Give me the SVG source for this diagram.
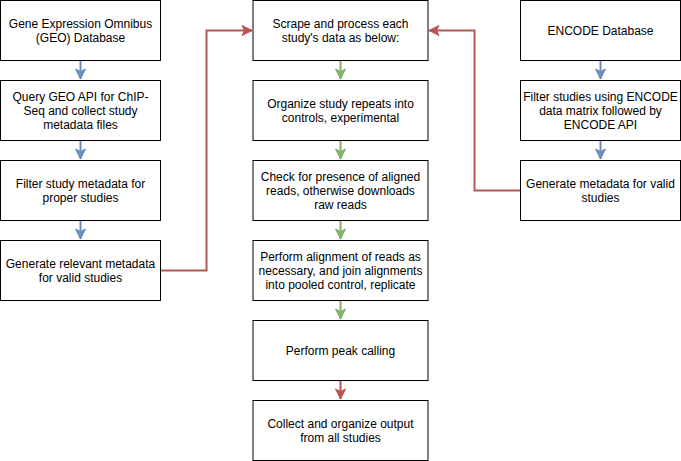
<svg xmlns="http://www.w3.org/2000/svg" width="681" height="461" viewBox="0 0 681 461">
<style>
.box{fill:#ffffff;stroke:#000000;stroke-width:1}
.t{font-family:"Liberation Sans",Arial,sans-serif;font-size:12px;fill:#000000;text-anchor:middle}
.blue{stroke:#6c8ebf;stroke-width:2;fill:none}
.green{stroke:#82b366;stroke-width:2;fill:none}
.red{stroke:#b85450;stroke-width:2;fill:none}
</style>
<defs>
<marker id="ab" markerUnits="userSpaceOnUse" markerWidth="14" markerHeight="12" viewBox="-10 -6 12 12" refX="0" refY="0" orient="auto"><path d="M0,0 L-10,-5 L-7.5,0 L-10,5 Z" fill="#6c8ebf" stroke="#6c8ebf"/></marker>
<marker id="ag" markerUnits="userSpaceOnUse" markerWidth="14" markerHeight="12" viewBox="-10 -6 12 12" refX="0" refY="0" orient="auto"><path d="M0,0 L-10,-5 L-7.5,0 L-10,5 Z" fill="#82b366" stroke="#82b366"/></marker>
<marker id="ar" markerUnits="userSpaceOnUse" markerWidth="14" markerHeight="12" viewBox="-10 -6 12 12" refX="0" refY="0" orient="auto"><path d="M0,0 L-10,-5 L-7.5,0 L-10,5 Z" fill="#b85450" stroke="#b85450"/></marker>
</defs>
<g id="connectors">
<path class="blue" d="M80.5,60.5 V79" marker-end="url(#ab)"/>
<path class="blue" d="M80.5,140.5 V159" marker-end="url(#ab)"/>
<path class="blue" d="M80.5,220.5 V239" marker-end="url(#ab)"/>
<path class="blue" d="M600.5,60.5 V79" marker-end="url(#ab)"/>
<path class="blue" d="M600.5,140.5 V159" marker-end="url(#ab)"/>
<path class="green" d="M340.5,60.5 V79" marker-end="url(#ag)"/>
<path class="green" d="M340.5,140.5 V159" marker-end="url(#ag)"/>
<path class="green" d="M340.5,220.5 V239" marker-end="url(#ag)"/>
<path class="green" d="M340.5,300.5 V319" marker-end="url(#ag)"/>
<path class="red" d="M340.5,380.5 V399" marker-end="url(#ar)"/>
<path class="red" d="M160.5,270.5 H206.5 V30.5 H252" marker-end="url(#ar)"/>
<path class="red" d="M520.5,190.5 H474.5 V30.5 H429" marker-end="url(#ar)"/>
</g>
<g id="geo">
<rect class="box" x="0.5" y="0.5" width="160" height="60"/>
<text class="t" x="80.5" y="28">Gene Expression Omnibus</text>
<text class="t" x="80.5" y="42">(GEO) Database</text>
</g>
<g id="query">
<rect class="box" x="0.5" y="80.5" width="160" height="60"/>
<text class="t" x="80.5" y="101">Query GEO API for ChIP-</text>
<text class="t" x="80.5" y="115">Seq and collect study</text>
<text class="t" x="80.5" y="129">metadata files</text>
</g>
<g id="filter">
<rect class="box" x="0.5" y="160.5" width="160" height="60"/>
<text class="t" x="80.5" y="188">Filter study metadata for</text>
<text class="t" x="80.5" y="202">proper studies</text>
</g>
<g id="genrel">
<rect class="box" x="0.5" y="240.5" width="160" height="60"/>
<text class="t" x="80.5" y="268">Generate relevant metadata</text>
<text class="t" x="80.5" y="282">for valid studies</text>
</g>
<g id="scrape">
<rect class="box" x="253" y="0.5" width="175" height="60"/>
<text class="t" x="340.5" y="28">Scrape and process each</text>
<text class="t" x="340.5" y="42">study's data as below:</text>
</g>
<g id="organize">
<rect class="box" x="253" y="80.5" width="175" height="60"/>
<text class="t" x="340.5" y="108">Organize study repeats into</text>
<text class="t" x="340.5" y="122">controls, experimental</text>
</g>
<g id="check">
<rect class="box" x="253" y="160.5" width="175" height="60"/>
<text class="t" x="340.5" y="181">Check for presence of aligned</text>
<text class="t" x="340.5" y="195">reads, otherwise downloads</text>
<text class="t" x="340.5" y="209">raw reads</text>
</g>
<g id="align">
<rect class="box" x="253" y="240.5" width="175" height="60"/>
<text class="t" x="340.5" y="261">Perform alignment of reads as</text>
<text class="t" x="340.5" y="275">necessary, and join alignments</text>
<text class="t" x="340.5" y="289">into pooled control, replicate</text>
</g>
<g id="peak">
<rect class="box" x="253" y="320.5" width="175" height="60"/>
<text class="t" x="340.5" y="355">Perform peak calling</text>
</g>
<g id="collect">
<rect class="box" x="253" y="400.5" width="175" height="60"/>
<text class="t" x="340.5" y="428">Collect and organize output</text>
<text class="t" x="340.5" y="442">from all studies</text>
</g>
<g id="encode">
<rect class="box" x="520.5" y="0.5" width="160" height="60"/>
<text class="t" x="600.5" y="35">ENCODE Database</text>
</g>
<g id="encfilter">
<rect class="box" x="520.5" y="80.5" width="160" height="60"/>
<text class="t" x="600.5" y="101">Filter studies using ENCODE</text>
<text class="t" x="600.5" y="115">data matrix followed by</text>
<text class="t" x="600.5" y="129">ENCODE API</text>
</g>
<g id="encgen">
<rect class="box" x="520.5" y="160.5" width="160" height="60"/>
<text class="t" x="600.5" y="188">Generate metadata for valid</text>
<text class="t" x="600.5" y="202">studies</text>
</g>
</svg>
